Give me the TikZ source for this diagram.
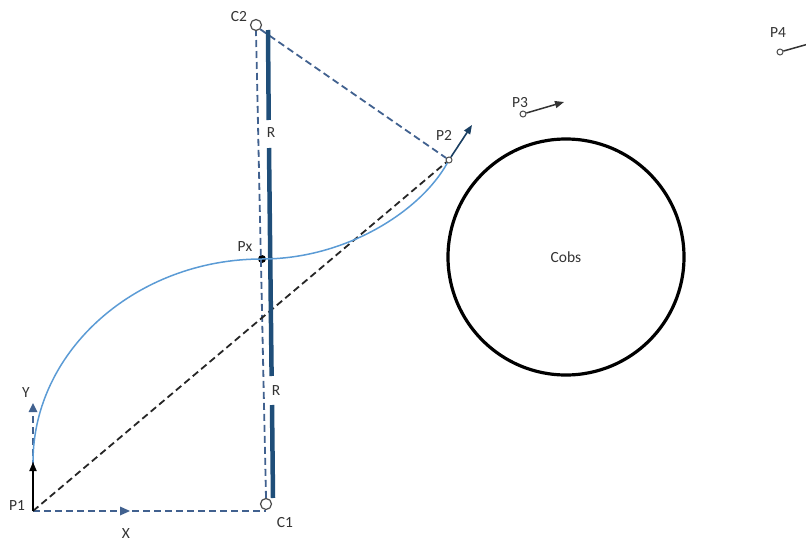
\documentclass[tikz,border=0pt]{standalone}
\usepackage{fontspec}
\setmainfont{Carlito}
\usetikzlibrary{arrows.meta}
\definecolor{axisblue}{HTML}{41618F}
\definecolor{radblue}{HTML}{1F4E79}
\definecolor{pathblue}{HTML}{5B9BD5}
\definecolor{labelgray}{HTML}{333333}
\tikzset{
  lbl/.style={text=labelgray,inner sep=1pt,font=\fontsize{15.5}{17}\selectfont},
  guide/.style={dashed,dash pattern=on 7pt off 4pt,line width=1.8pt,color=axisblue},
  wp/.style={circle,draw=black!70,line width=1pt,inner sep=0pt,minimum size=6pt},
  ctr/.style={circle,draw=black!70,line width=1.2pt,inner sep=0pt,minimum size=11pt},
  tip/.style={-{Triangle[length=9pt,width=7pt]}}
}
\begin{document}
\begin{tikzpicture}[x=1pt,y=-1pt]
    \useasboundingbox (0,0) rectangle (806,543);
    \pgfmathsetmacro{\obsradius}{118}
    % points
    \coordinate (p1) at (33,511);
    \coordinate (c1) at (266,511);
    \coordinate (yend) at (33,403);
    \coordinate (xmid) at (130,511);
    \coordinate (h1) at (33,462);
    \node[ctr] (c1c) at (266,504) {};
    \node[ctr] (c2c) at (256,25) {};
    \node[wp] (p2) at (449,160) {};
    \coordinate (h2) at (472,125);
    \node[circle,fill=black,inner sep=0pt,minimum size=8pt] (px) at (262,259) {};
    \node[wp] (p3) at (523,114) {};
    \coordinate (h3) at (564,102);
    \node[wp] (p4) at (780,52) {};
    \coordinate (h4) at (812,43);
    % axes and guides
    \draw[guide] (p1) -- (yend);
    \fill[axisblue] (yend) ++(-4.5,9) -- (yend) -- ++(4.5,9) -- cycle;
    \draw[guide] (p1) -- (c1);
    \fill[axisblue] (xmid) ++(-10,-4.5) -- (xmid) -- ++(-10,4.5) -- cycle;
    \draw[guide] (c1c.north) -- (c2c.south);
    \draw[guide] (c2c.south east) -- (p2);
    \draw[dashed,dash pattern=on 7pt off 4pt,line width=1.8pt,black!85] (p1) -- (p2);
    % radius bar
    \draw[radblue,line width=4.5pt] (268,30) -- (268.7,120);
    \draw[radblue,line width=4.5pt] (269,148) -- (271.6,376);
    \draw[radblue,line width=4.5pt] (272,405) -- (273,498);
    \node[lbl] (r1) at (271,133) {R};
    \node[lbl] (r2) at (276,391) {R};
    % path
    \draw[pathblue,line width=1.5pt] (h1) .. controls (33,350) and (137,259) .. (px.center)
        .. controls (345,259) and (420,212) .. (p2);
    \draw[black,line width=1.8pt,tip] (p1) -- (h1);
    \draw[radblue!80!black,line width=1.6pt,tip] (p2) -- (h2);
    \draw[black!80,line width=1.5pt,tip] (p3) -- (h3);
    \draw[black!80,line width=1.5pt] (p4) -- (h4);
    % obstacle
    \node[circle,draw=black,line width=3.2pt,minimum size=2*\obsradius pt,inner sep=0pt] (cobs) at (566,257) {};
    \node[lbl] at (cobs.center) {Cobs};
    % labels
    \node[lbl] (lp1) at (17,506) {P1};
    \node[lbl] (lc1) at (285,523) {C1};
    \node[lbl] (lx) at (126,534) {X};
    \node[lbl] (ly) at (26,393) {Y};
    \node[lbl] (lc2) at (239,17) {C2};
    \node[lbl] (lpx) at (245,247) {Px};
    \node[lbl] (lp2) at (444,135) {P2};
    \node[lbl] (lp3) at (520,103) {P3};
    \node[lbl] (lp4) at (778,33) {P4};
\end{tikzpicture}
\end{document}
